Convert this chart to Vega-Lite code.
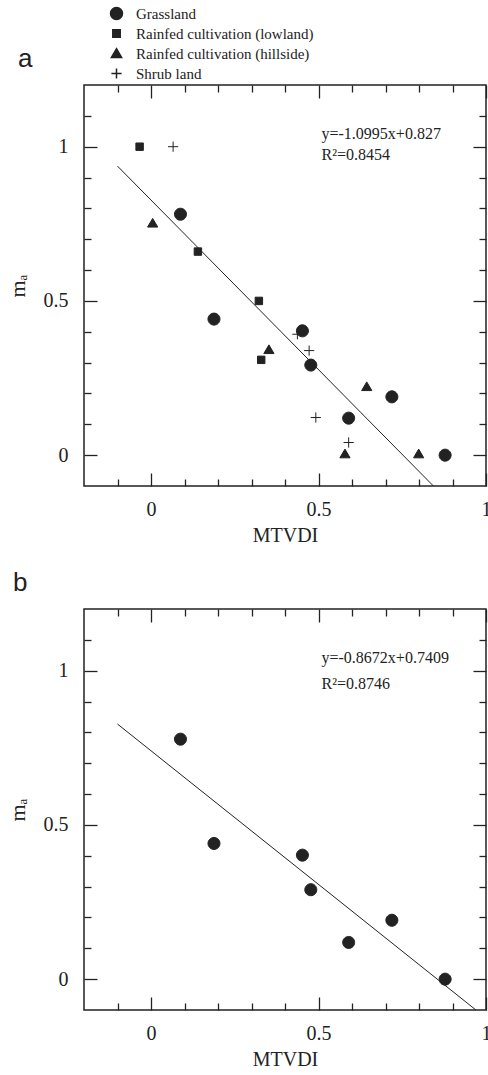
{
  "$schema": "https://vega.github.io/schema/vega-lite/v6.json",
  "padding": {"left": 5, "top": 6, "right": 0, "bottom": 0},
  "autosize": {"type": "pad"},
  "spacing": 23,
  "config": {
    "view": {"stroke": "#222", "strokeWidth": 1.5},
    "font": "Liberation Serif, Times New Roman, serif",
    "axis": {"domain": false, "grid": false, "tickColor": "#222", "tickWidth": 1.3, "labelColor": "#222", "labelFont": "Liberation Serif, Times New Roman, serif", "labelFontSize": 20, "titleFont": "Liberation Serif, Times New Roman, serif", "titleFontSize": 20, "titleFontWeight": "normal", "titleColor": "#222", "labelFlush": false, "format": "~g"}
  },
  "datasets": {
    "a": [
      {"type": "Grassland", "x": 0.088, "y": 0.781},
      {"type": "Grassland", "x": 0.188, "y": 0.441},
      {"type": "Grassland", "x": 0.452, "y": 0.403},
      {"type": "Grassland", "x": 0.477, "y": 0.292},
      {"type": "Grassland", "x": 0.59, "y": 0.12},
      {"type": "Grassland", "x": 0.719, "y": 0.189},
      {"type": "Grassland", "x": 0.878, "y": 0.0},
      {"type": "Rainfed cultivation (lowland)", "x": -0.034, "y": 1.0},
      {"type": "Rainfed cultivation (lowland)", "x": 0.14, "y": 0.66},
      {"type": "Rainfed cultivation (lowland)", "x": 0.322, "y": 0.5},
      {"type": "Rainfed cultivation (lowland)", "x": 0.329, "y": 0.309},
      {"type": "Rainfed cultivation (hillside)", "x": 0.005, "y": 0.752},
      {"type": "Rainfed cultivation (hillside)", "x": 0.352, "y": 0.342},
      {"type": "Rainfed cultivation (hillside)", "x": 0.644, "y": 0.222},
      {"type": "Rainfed cultivation (hillside)", "x": 0.579, "y": 0.004},
      {"type": "Rainfed cultivation (hillside)", "x": 0.799, "y": 0.004},
      {"type": "Shrub land", "x": 0.066, "y": 1.0},
      {"type": "Shrub land", "x": 0.437, "y": 0.392},
      {"type": "Shrub land", "x": 0.472, "y": 0.339},
      {"type": "Shrub land", "x": 0.492, "y": 0.122},
      {"type": "Shrub land", "x": 0.59, "y": 0.041}
    ],
    "b": [
      {"type": "Grassland", "x": 0.088, "y": 0.778},
      {"type": "Grassland", "x": 0.188, "y": 0.44},
      {"type": "Grassland", "x": 0.452, "y": 0.402},
      {"type": "Grassland", "x": 0.477, "y": 0.29},
      {"type": "Grassland", "x": 0.59, "y": 0.119},
      {"type": "Grassland", "x": 0.719, "y": 0.191},
      {"type": "Grassland", "x": 0.878, "y": 0.0}
    ],
    "lineA": [{"x": -0.1, "y": 0.937}, {"x": 0.843, "y": -0.1}],
    "lineB": [{"x": -0.1, "y": 0.827}, {"x": 0.97, "y": -0.1}],
    "eqA": [{"label": "y=-1.0995x+0.827", "x": 0.509, "y": 1.04}],
    "r2A": [{"label": "R²=0.8454", "x": 0.509, "y": 0.973}],
    "eqB": [{"label": "y=-0.8672x+0.7409", "x": 0.509, "y": 1.042}],
    "r2B": [{"label": "R²=0.8746", "x": 0.509, "y": 0.958}]
  },
  "vconcat": [
    {
      "width": 402, "height": 401,
      "title": {"text": "a", "anchor": "start", "frame": "group", "font": "Liberation Sans", "fontSize": 26, "fontWeight": "normal", "color": "#222", "dx": -66, "offset": 12},
      "resolve": {"axis": {"x": "independent", "y": "independent"}},
      "layer": [
        {
          "data": {"name": "a"},
          "mark": {"type": "point", "filled": true, "opacity": 1, "color": "#222", "stroke": "#222", "strokeWidth": 1, "size": 144},
          "encoding": {
            "x": {"field": "x", "type": "quantitative", "scale": {"domain": [-0.2, 1], "nice": false, "zero": false},
              "axis": {"orient": "bottom", "values": [0, 0.5, 1], "tickSize": -13, "labelPadding": 26, "labelFont": "Liberation Serif, Times New Roman, serif", "labelFontSize": 20, "title": "MTVDI", "titleFont": "Liberation Serif, Times New Roman, serif", "titleFontSize": 20, "titleFontWeight": "normal", "titlePadding": 6}},
            "y": {"field": "y", "type": "quantitative", "scale": {"domain": [-0.1, 1.2], "nice": false, "zero": false},
              "axis": {"orient": "left", "values": [0, 0.5, 1], "tickSize": -13, "labelPadding": 29, "labelFont": "Liberation Serif, Times New Roman, serif", "labelFontSize": 20, "title": "mₐ", "titleFont": "Liberation Serif, Times New Roman, serif", "titleFontSize": 22, "titleFontWeight": "normal", "titlePadding": 14}},
            "shape": {"field": "type", "type": "nominal",
              "scale": {"domain": ["Grassland", "Rainfed cultivation (lowland)", "Rainfed cultivation (hillside)", "Shrub land"],
                "range": ["M1,0A1,1 0 1,1 -1,0A1,1 0 1,1 1,0Z", "M-0.62,-0.62H0.62V0.62H-0.62Z", "M0,-0.8L0.85,0.65L-0.85,0.65Z", "M-0.85,0H0.85M0,-0.85V0.85"]},
              "legend": {"orient": "none", "legendX": 25, "legendY": -79, "title": null, "padding": 0, "labelFont": "Liberation Serif, Times New Roman, serif", "labelFontSize": 15, "labelColor": "#222", "labelOffset": 12, "labelLimit": 400, "rowPadding": 3, "symbolSize": 144,
                "encode": {"symbols": {"update": {"fill": {"value": "#222"}, "stroke": {"value": "#222"}, "strokeWidth": {"value": 1}, "opacity": {"value": 1}}}}}}
          }
        },
        {
          "data": {"name": "lineA"},
          "mark": {"type": "line", "color": "#222", "strokeWidth": 1},
          "encoding": {
            "x": {"field": "x", "type": "quantitative", "scale": {"domain": [-0.2, 1], "nice": false, "zero": false},
              "axis": {"orient": "bottom", "values": [-0.1, 0.1, 0.2, 0.3, 0.4, 0.6, 0.7, 0.8, 0.9], "tickSize": -7, "labels": false, "title": null}},
            "y": {"field": "y", "type": "quantitative", "scale": {"domain": [-0.1, 1.2], "nice": false, "zero": false},
              "axis": {"orient": "left", "values": [0.1, 0.2, 0.3, 0.4, 0.6, 0.7, 0.8, 0.9, 1.1], "tickSize": -7, "labels": false, "title": null}}
          }
        },
        {
          "data": {"name": "eqA"},
          "mark": {"type": "text", "align": "left", "baseline": "middle", "font": "Liberation Serif, Times New Roman, serif", "fontSize": 16, "color": "#222"},
          "encoding": {
            "text": {"field": "label"},
            "x": {"field": "x", "type": "quantitative", "scale": {"domain": [-0.2, 1], "nice": false, "zero": false},
              "axis": {"orient": "top", "values": [0, 0.5, 1], "tickSize": -13, "labels": false, "title": null}},
            "y": {"field": "y", "type": "quantitative", "scale": {"domain": [-0.1, 1.2], "nice": false, "zero": false},
              "axis": {"orient": "right", "values": [0, 0.5, 1], "tickSize": -13, "labels": false, "title": null}}
          }
        },
        {
          "data": {"name": "r2A"},
          "mark": {"type": "text", "align": "left", "baseline": "middle", "font": "Liberation Serif, Times New Roman, serif", "fontSize": 16, "color": "#222"},
          "encoding": {
            "text": {"field": "label"},
            "x": {"field": "x", "type": "quantitative", "scale": {"domain": [-0.2, 1], "nice": false, "zero": false},
              "axis": {"orient": "top", "values": [-0.1, 0.1, 0.2, 0.3, 0.4, 0.6, 0.7, 0.8, 0.9], "tickSize": -7, "labels": false, "title": null}},
            "y": {"field": "y", "type": "quantitative", "scale": {"domain": [-0.1, 1.2], "nice": false, "zero": false},
              "axis": {"orient": "right", "values": [0.1, 0.2, 0.3, 0.4, 0.6, 0.7, 0.8, 0.9, 1.1], "tickSize": -7, "labels": false, "title": null}}
          }
        }
      ]
    },
    {
      "width": 402, "height": 401,
      "title": {"text": "b", "anchor": "start", "frame": "group", "font": "Liberation Sans", "fontSize": 26, "fontWeight": "normal", "color": "#222", "dx": -71, "offset": 12},
      "resolve": {"axis": {"x": "independent", "y": "independent"}},
      "layer": [
        {
          "data": {"name": "b"},
          "mark": {"type": "point", "filled": true, "opacity": 1, "color": "#222", "stroke": "#222", "strokeWidth": 1, "size": 144, "shape": "M1,0A1,1 0 1,1 -1,0A1,1 0 1,1 1,0Z"},
          "encoding": {
            "x": {"field": "x", "type": "quantitative", "scale": {"domain": [-0.2, 1], "nice": false, "zero": false},
              "axis": {"orient": "bottom", "values": [0, 0.5, 1], "tickSize": -13, "labelPadding": 26, "labelFont": "Liberation Serif, Times New Roman, serif", "labelFontSize": 20, "title": "MTVDI", "titleFont": "Liberation Serif, Times New Roman, serif", "titleFontSize": 20, "titleFontWeight": "normal", "titlePadding": 6}},
            "y": {"field": "y", "type": "quantitative", "scale": {"domain": [-0.1, 1.2], "nice": false, "zero": false},
              "axis": {"orient": "left", "values": [0, 0.5, 1], "tickSize": -13, "labelPadding": 29, "labelFont": "Liberation Serif, Times New Roman, serif", "labelFontSize": 20, "title": "mₐ", "titleFont": "Liberation Serif, Times New Roman, serif", "titleFontSize": 22, "titleFontWeight": "normal", "titlePadding": 14}}
          }
        },
        {
          "data": {"name": "lineB"},
          "mark": {"type": "line", "color": "#222", "strokeWidth": 1},
          "encoding": {
            "x": {"field": "x", "type": "quantitative", "scale": {"domain": [-0.2, 1], "nice": false, "zero": false},
              "axis": {"orient": "bottom", "values": [-0.1, 0.1, 0.2, 0.3, 0.4, 0.6, 0.7, 0.8, 0.9], "tickSize": -7, "labels": false, "title": null}},
            "y": {"field": "y", "type": "quantitative", "scale": {"domain": [-0.1, 1.2], "nice": false, "zero": false},
              "axis": {"orient": "left", "values": [0.1, 0.2, 0.3, 0.4, 0.6, 0.7, 0.8, 0.9, 1.1], "tickSize": -7, "labels": false, "title": null}}
          }
        },
        {
          "data": {"name": "eqB"},
          "mark": {"type": "text", "align": "left", "baseline": "middle", "font": "Liberation Serif, Times New Roman, serif", "fontSize": 16, "color": "#222"},
          "encoding": {
            "text": {"field": "label"},
            "x": {"field": "x", "type": "quantitative", "scale": {"domain": [-0.2, 1], "nice": false, "zero": false},
              "axis": {"orient": "top", "values": [0, 0.5, 1], "tickSize": -13, "labels": false, "title": null}},
            "y": {"field": "y", "type": "quantitative", "scale": {"domain": [-0.1, 1.2], "nice": false, "zero": false},
              "axis": {"orient": "right", "values": [0, 0.5, 1], "tickSize": -13, "labels": false, "title": null}}
          }
        },
        {
          "data": {"name": "r2B"},
          "mark": {"type": "text", "align": "left", "baseline": "middle", "font": "Liberation Serif, Times New Roman, serif", "fontSize": 16, "color": "#222"},
          "encoding": {
            "text": {"field": "label"},
            "x": {"field": "x", "type": "quantitative", "scale": {"domain": [-0.2, 1], "nice": false, "zero": false},
              "axis": {"orient": "top", "values": [-0.1, 0.1, 0.2, 0.3, 0.4, 0.6, 0.7, 0.8, 0.9], "tickSize": -7, "labels": false, "title": null}},
            "y": {"field": "y", "type": "quantitative", "scale": {"domain": [-0.1, 1.2], "nice": false, "zero": false},
              "axis": {"orient": "right", "values": [0.1, 0.2, 0.3, 0.4, 0.6, 0.7, 0.8, 0.9, 1.1], "tickSize": -7, "labels": false, "title": null}}
          }
        }
      ]
    }
  ]
}
